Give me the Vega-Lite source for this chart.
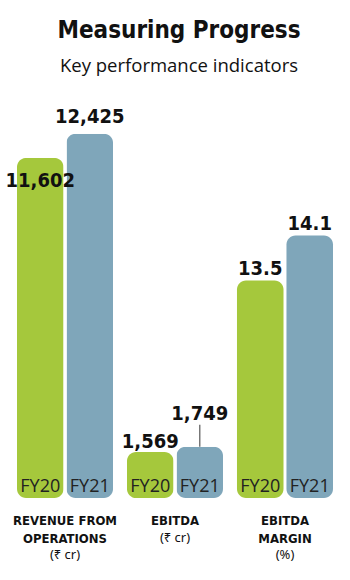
{
  "$schema": "https://vega.github.io/schema/vega-lite/v6.json",
  "width": 316,
  "height": 398,
  "autosize": {"type": "none"},
  "padding": {"left": 17, "top": 100, "right": 17, "bottom": 82},
  "background": "white",
  "title": {
    "text": "Measuring Progress",
    "subtitle": "Key performance indicators",
    "anchor": "middle",
    "font": "DejaVu Sans Condensed",
    "fontWeight": "bold",
    "fontSize": 24,
    "color": "#111111",
    "subtitleFont": "Open Sans",
    "subtitleFontSize": 18.5,
    "subtitleColor": "#111111",
    "subtitlePadding": 14,
    "offset": 25,
    "dx": 4
  },
  "config": {"view": {"stroke": null}, "axis": {"grid": false}},
  "datasets": {
    "rupee": [
      {"cat": "REVENUE FROM|OPERATIONS", "year": "FY20", "value": 11602},
      {"cat": "REVENUE FROM|OPERATIONS", "year": "FY21", "value": 12425},
      {"cat": "EBITDA", "year": "FY20", "value": 1569},
      {"cat": "EBITDA", "year": "FY21", "value": 1749}
    ],
    "margin": [
      {"cat": "EBITDA|MARGIN", "year": "FY20", "value": 13.5},
      {"cat": "EBITDA|MARGIN", "year": "FY21", "value": 14.1}
    ],
    "units": [
      {"cat": "REVENUE FROM|OPERATIONS", "unit": "(₹ cr)"},
      {"cat": "EBITDA", "unit": "(₹ cr)"},
      {"cat": "EBITDA|MARGIN", "unit": "(%)"}
    ]
  },
  "layer": [
    {
      "layer": [
        {
          "data": {"name": "rupee"},
          "mark": {"type": "bar", "cornerRadius": 9},
          "encoding": {
            "x": {"field": "cat", "type": "nominal", "sort": null, "scale": {"domain": ["REVENUE FROM|OPERATIONS", "EBITDA", "EBITDA|MARGIN"], "paddingInner": 0.127, "paddingOuter": 0}, "axis": {"title": null, "labelExpr": "split(datum.label, '|')", "labelAngle": 0, "ticks": false, "domain": false, "labelFont": "DejaVu Sans Condensed", "labelFontWeight": "bold", "labelFontSize": 13, "labelColor": "#111111", "labelPadding": 16, "labelLineHeight": 18, "labelBaseline": "top"}},
            "xOffset": {"field": "year", "type": "nominal", "scale": {"paddingInner": 0.06, "paddingOuter": 0}},
            "y": {"field": "value", "type": "quantitative", "scale": {"domain": [0, 13580], "nice": false}, "axis": null},
            "color": {"field": "year", "type": "nominal", "scale": {"domain": ["FY20", "FY21"], "range": ["#a5c83c", "#7fa6ba"]}, "legend": null}
          }
        },
        {
          "data": {"name": "rupee"},
          "transform": [{"filter": "datum.cat == 'REVENUE FROM|OPERATIONS' && datum.year == 'FY21'"}],
          "mark": {"type": "text", "font": "DejaVu Sans Condensed", "fontWeight": "bold", "fontSize": 20, "color": "#111111", "baseline": "alphabetic", "dy": -11},
          "encoding": {
            "x": {"field": "cat", "type": "nominal", "sort": null},
            "xOffset": {"field": "year", "type": "nominal"},
            "y": {"field": "value", "type": "quantitative"},
            "text": {"field": "value", "type": "quantitative", "format": ","}
          }
        },
        {
          "data": {"name": "rupee"},
          "transform": [{"filter": "datum.cat == 'EBITDA' && datum.year == 'FY20'"}],
          "mark": {"type": "text", "font": "DejaVu Sans Condensed", "fontWeight": "bold", "fontSize": 20, "color": "#111111", "baseline": "alphabetic", "dy": -4},
          "encoding": {
            "x": {"field": "cat", "type": "nominal", "sort": null},
            "xOffset": {"field": "year", "type": "nominal"},
            "y": {"field": "value", "type": "quantitative"},
            "text": {"field": "value", "type": "quantitative", "format": ","}
          }
        },
        {
          "data": {"name": "rupee"},
          "transform": [{"filter": "datum.cat == 'REVENUE FROM|OPERATIONS' && datum.year == 'FY20'"}],
          "mark": {"type": "text", "font": "DejaVu Sans Condensed", "fontWeight": "bold", "fontSize": 20, "color": "#111111", "baseline": "alphabetic", "dy": 29},
          "encoding": {
            "x": {"field": "cat", "type": "nominal", "sort": null},
            "xOffset": {"field": "year", "type": "nominal"},
            "y": {"field": "value", "type": "quantitative"},
            "text": {"field": "value", "type": "quantitative", "format": ","}
          }
        },
        {
          "data": {"name": "rupee"},
          "transform": [{"filter": "datum.cat == 'EBITDA' && datum.year == 'FY21'"}],
          "mark": {"type": "rule", "color": "#777777", "strokeWidth": 1.5, "y2Offset": -22},
          "encoding": {
            "x": {"field": "cat", "type": "nominal", "sort": null},
            "xOffset": {"field": "year", "type": "nominal"},
            "y": {"field": "value", "type": "quantitative"},
            "y2": {"field": "value"}
          }
        },
        {
          "data": {"name": "rupee"},
          "transform": [{"filter": "datum.cat == 'EBITDA' && datum.year == 'FY21'"}],
          "mark": {"type": "text", "font": "DejaVu Sans Condensed", "fontWeight": "bold", "fontSize": 20, "color": "#111111", "baseline": "alphabetic", "dy": -27},
          "encoding": {
            "x": {"field": "cat", "type": "nominal", "sort": null},
            "xOffset": {"field": "year", "type": "nominal"},
            "y": {"field": "value", "type": "quantitative"},
            "text": {"field": "value", "type": "quantitative", "format": ","}
          }
        },
        {
          "data": {"name": "rupee"},
          "mark": {"type": "text", "font": "Open Sans", "fontSize": 18, "color": "#222222", "baseline": "alphabetic", "dy": -6},
          "encoding": {
            "x": {"field": "cat", "type": "nominal", "sort": null},
            "xOffset": {"field": "year", "type": "nominal"},
            "y": {"datum": 0, "type": "quantitative"},
            "text": {"field": "year", "type": "nominal"}
          }
        },
        {
          "data": {"name": "units"},
          "transform": [{"filter": "datum.cat != 'EBITDA'"}],
          "mark": {"type": "text", "font": "Noto Sans", "fontSize": 13, "color": "#111111", "baseline": "alphabetic", "dy": 61},
          "encoding": {
            "x": {"field": "cat", "type": "nominal", "sort": null},
            "y": {"datum": 0, "type": "quantitative"},
            "text": {"field": "unit", "type": "nominal"}
          }
        },
        {
          "data": {"name": "units"},
          "transform": [{"filter": "datum.cat == 'EBITDA'"}],
          "mark": {"type": "text", "font": "Noto Sans", "fontSize": 13, "color": "#111111", "baseline": "alphabetic", "dy": 44},
          "encoding": {
            "x": {"field": "cat", "type": "nominal", "sort": null},
            "y": {"datum": 0, "type": "quantitative"},
            "text": {"field": "unit", "type": "nominal"}
          }
        }
      ]
    },
    {
      "data": {"name": "margin"},
      "layer": [
        {
          "mark": {"type": "bar", "cornerRadius": 9},
          "encoding": {
            "x": {"field": "cat", "type": "nominal", "sort": null},
            "xOffset": {"field": "year", "type": "nominal"},
            "y": {"field": "value", "type": "quantitative", "scale": {"domain": [10.6, 15.907], "zero": false, "nice": false}, "axis": null},
            "y2": {"datum": 10.6},
            "color": {"field": "year", "type": "nominal", "legend": null}
          }
        },
        {
          "mark": {"type": "text", "font": "DejaVu Sans Condensed", "fontWeight": "bold", "fontSize": 20, "color": "#111111", "baseline": "alphabetic", "dy": -6},
          "encoding": {
            "x": {"field": "cat", "type": "nominal", "sort": null},
            "xOffset": {"field": "year", "type": "nominal"},
            "y": {"field": "value", "type": "quantitative"},
            "text": {"field": "value", "type": "quantitative", "format": ".1f"}
          }
        },
        {
          "mark": {"type": "text", "font": "Open Sans", "fontSize": 18, "color": "#222222", "baseline": "alphabetic", "dy": -6},
          "encoding": {
            "x": {"field": "cat", "type": "nominal", "sort": null},
            "xOffset": {"field": "year", "type": "nominal"},
            "y": {"datum": 10.6, "type": "quantitative"},
            "text": {"field": "year", "type": "nominal"}
          }
        }
      ]
    }
  ],
  "resolve": {"scale": {"y": "independent"}, "axis": {"y": "independent"}}
}
